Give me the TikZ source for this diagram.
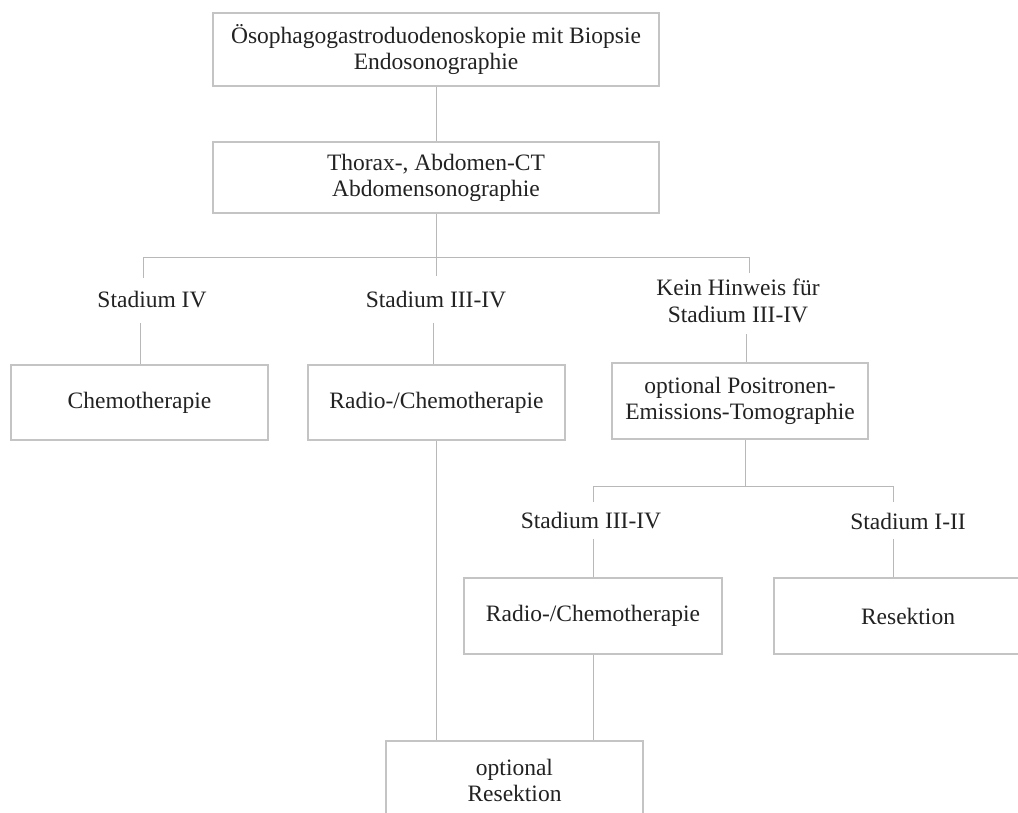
\documentclass[tikz,border=0pt]{standalone}
\usepackage{fontspec}
\setmainfont{Liberation Serif}
\definecolor{boxline}{HTML}{C4C4C4}
\definecolor{connline}{HTML}{B8B8B8}
\definecolor{txt}{HTML}{222222}
\begin{document}
\begin{tikzpicture}[x=1pt,y=-1pt,
  box/.style={draw=boxline,line width=1.1pt,fill=white,inner sep=0pt,align=center,text=txt,
    font=\fontsize{23.5}{26}\selectfont},
  lbl/.style={inner sep=0pt,align=center,text=txt,font=\fontsize{23.5}{27}\selectfont},
  conn/.style={draw=connline,line width=1pt}]
\useasboundingbox[fill=white] (0,0) rectangle (1018,812);
% boxes
\node[box,minimum width=446pt,minimum height=73pt] (b1) at (436,49.5) {Ösophagogastroduodenoskopie mit Biopsie\\Endosonographie};
\node[box,minimum width=446pt,minimum height=71pt] (b2) at (436,177.5) {Thorax-, Abdomen-CT\\Abdomensonographie};
\node[box,minimum width=257pt,minimum height=75pt] (chemo) at (139.5,402.5) {Chemotherapie};
\node[box,minimum width=257pt,minimum height=75pt] (rc1) at (436.5,402.5) {Radio-/Chemotherapie};
\node[box,minimum width=256pt,minimum height=76pt] (pet) at (740,401) {optional Positronen-\\Emissions-Tomographie};
\node[box,minimum width=258pt,minimum height=76pt] (rc2) at (593,616) {Radio-/Chemotherapie};
\node[box,minimum width=268pt,minimum height=76pt] (res) at (908,616) {Resektion};
\node[box,minimum width=257pt,minimum height=78pt] (ores) at (514.5,780) {optional\\Resektion};
% labels
\node[lbl] (l1) at (152,300) {Stadium IV};
\node[lbl] (l2) at (436,300) {Stadium III-IV};
\node[lbl] (l3) at (738,301) {Kein Hinweis für\\Stadium III-IV};
\node[lbl] (l4) at (591,521) {Stadium III-IV};
\node[lbl] (l5) at (908,521) {Stadium I-II};
% junction coordinates
\coordinate (j1) at (436,257);
\coordinate (h1l) at (143,257);
\coordinate (h1r) at (749,257);
\coordinate (d1) at (143,278);
\coordinate (d2) at (436,276);
\coordinate (d3) at (749,273);
\coordinate (u1) at (140,323);
\coordinate (u2) at (433,323);
\coordinate (u3) at (746,334);
\coordinate (j2) at (745,486);
\coordinate (h2l) at (593,486);
\coordinate (h2r) at (893,486);
\coordinate (d4) at (593,502);
\coordinate (d5) at (893,502);
\coordinate (u4) at (593,539);
\coordinate (u5) at (893,539);
% connectors
\draw[conn] (b1.south) -- (b2.north);
\draw[conn] (b2.south) -- (j1);
\draw[conn] (h1l) -- (h1r);
\draw[conn] (h1l) -- (d1);
\draw[conn] (j1) -- (d2);
\draw[conn] (h1r) -- (d3);
\draw[conn] (u1) -- (u1 |- chemo.north);
\draw[conn] (u2) -- (u2 |- rc1.north);
\draw[conn] (u3) -- (u3 |- pet.north);
\draw[conn] (pet.south -| j2) -- (j2);
\draw[conn] (h2l) -- (h2r);
\draw[conn] (h2l) -- (d4);
\draw[conn] (h2r) -- (d5);
\draw[conn] (u4) -- (u4 |- rc2.north);
\draw[conn] (u5) -- (u5 |- res.north);
\draw[conn] (rc1.south) -- (rc1.south |- ores.north);
\draw[conn] (rc2.south) -- (rc2.south |- ores.north);
\end{tikzpicture}
\end{document}
